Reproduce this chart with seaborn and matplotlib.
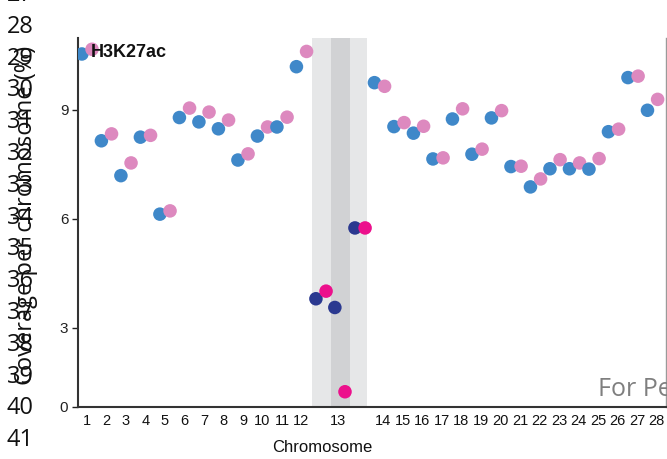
import numpy as np
import pandas as pd
import matplotlib
matplotlib.use('Agg')
import matplotlib.pyplot as plt
import seaborn as sns

# Values
chromosomes = [1, 2, 3, 4, 5, 6, 7, 8, 9, 10, 11, 12,
               14, 15, 16, 17, 18, 19, 20, 21, 22, 23, 24, 25, 26, 27, 28]
coverage_a = [10.54, 8.15, 7.19, 8.25, 6.13, 8.79, 8.67, 8.48, 7.62, 8.28, 8.53, 10.19,
              9.75, 8.54, 8.36, 7.65, 8.75, 7.78, 8.78, 7.44, 6.88, 7.38, 7.38, 7.37, 8.40, 9.89, 8.99]
coverage_b = [10.67, 8.34, 7.54, 8.30, 6.22, 9.05, 8.94, 8.72, 7.79, 8.53, 8.80, 10.61,
              9.65, 8.65, 8.55, 7.68, 9.03, 7.92, 8.98, 7.45, 7.10, 7.63, 7.54, 7.66, 8.47, 9.93, 9.29]

# chromosome 13 is split into three segments
chr13_segments = ['13a', '13b', '13c']
chr13_a = [3.80, 3.56, 5.75]
chr13_b = [4.01, 1.24, 5.75]

line_numbers = list(range(27, 42))

# layout: chr13 gets a wider slot
chrom_x = [c if c <= 12 else c + 2.0 for c in chromosomes]
seg_x = [13.0, 13.97, 15.0]
seg_edges = [12.54, 13.51, 14.49, 15.36]
dx = 0.26

rows = []
for x, a, b in zip(chrom_x, coverage_a, coverage_b):
    rows.append({'x': x - dx, 'cov': a, 'grp': 'A'})
    rows.append({'x': x + dx, 'cov': b, 'grp': 'B'})
for x, a, b in zip(seg_x, chr13_a, chr13_b):
    rows.append({'x': x - dx, 'cov': a, 'grp': 'A13'})
    rows.append({'x': x + dx, 'cov': b, 'grp': 'B13'})
df = pd.DataFrame(rows)

sns.set_style('ticks')
narrow = ['Liberation Sans Narrow', 'Liberation Sans', 'DejaVu Sans']

fig = plt.figure(figsize=(6.67, 4.59), dpi=100)
ax = fig.add_axes([78 / 667, 52 / 459, 588 / 667, 369 / 459])

# shaded bands for chromosome 13
band_cols = ['#e6e7e8', '#d1d2d4', '#e6e7e8']
for i, c in enumerate(band_cols):
    ax.axvspan(seg_edges[i], seg_edges[i + 1], color=c, lw=0, zorder=0)

palette = {'A': '#3f88c9', 'B': '#dd89bf', 'A13': '#2b3990', 'B13': '#ec108c'}
sns.scatterplot(data=df, x='x', y='cov', hue='grp', palette=palette,
                s=95, edgecolor='none', legend=False, ax=ax, zorder=3)

ax.set_xlim(0.54, 30.69)
ax.set_ylim(0.82, 10.98)
ax.set_yticks([0.82, 3, 6, 9])
ax.set_yticklabels(['0', '3', '6', '9'], family=narrow, fontsize=11)
# labels right of chr13 sit a little right of their dot pairs in the original
xt = chrom_x[:12] + [13.87] + [x + 0.2 for x in chrom_x[12:]]
xl = [str(c) for c in chromosomes[:12]] + ['13'] + [str(c) for c in chromosomes[12:]]
ax.set_xticks(xt)
ax.set_xticklabels(xl, family=narrow, fontsize=10.5)
ax.tick_params(axis='x', length=0, pad=5, colors='#111111')
ax.tick_params(axis='y', length=4, width=1, colors='#222222', pad=3)

ax.set_xlabel('Chromosome', family=narrow, fontsize=12, color='#111111')
ax.xaxis.set_label_coords(0.415, -0.09)
ax.set_ylabel('')

for side in ['left', 'bottom']:
    ax.spines[side].set_color('#333333')
    ax.spines[side].set_linewidth(1.5)
ax.spines['top'].set_visible(False)
ax.spines['right'].set_color('#9a9a9a')
ax.spines['right'].set_linewidth(1)

ax.text(0.022, 0.985, 'H3K27ac', transform=ax.transAxes, family=narrow,
        fontweight='bold', fontsize=13, va='top', ha='left', color='#111111')

# manuscript line numbers and rotated label
for i, n in enumerate(line_numbers):
    y_px = -5 + i * 31.8
    fig.text(20 / 667, 1 - y_px / 459, str(n), family='Open Sans', fontsize=17,
             ha='center', va='center', color='#111111')
fig.text(26 / 667, 1 - 215 / 459, 'Coverage per chromosome (%)', family='Open Sans',
         fontsize=17, rotation=90, ha='center', va='center', color='#111111')

fig.text(598 / 667, 1 - 396 / 459, 'For Peer Review', family='Open Sans', fontsize=18,
         color='#7f7f7f', ha='left', va='baseline')

fig.savefig('out.png', dpi=100)
